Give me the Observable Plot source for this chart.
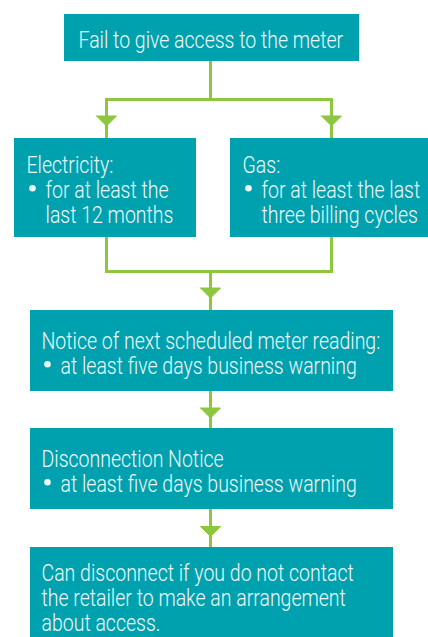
<!DOCTYPE html>
<html>
<head>
<meta charset="utf-8">
<script src="https://cdn.jsdelivr.net/npm/d3@7"></script>
<script src="https://cdn.jsdelivr.net/npm/@observablehq/plot@0.6"></script>
<style>
  html, body { margin: 0; padding: 0; background: #ffffff; }
  #chart { width: 428px; height: 637px; overflow: hidden; }
</style>
</head>
<body>
<div id="chart"></div>
<script>
// ---- content (data) ----
const nodeIds = ["access", "electricity", "gas", "notice", "disconnection", "outcome"];
const nodeTitleLines = [
  ["Fail to give access to the meter"],
  ["Electricity:"],
  ["Gas:"],
  ["Notice of next scheduled meter reading:"],
  ["Disconnection Notice"],
  ["Can disconnect if you do not contact", "the retailer to make an arrangement", "about access."]
];
const nodeBulletLines = [
  [],
  ["for at least the", "last 12 months"],
  ["for at least the last", "three billing cycles"],
  ["at least five days business warning"],
  ["at least five days business warning"],
  []
];
const edgeFrom = ["access", "access", "electricity", "gas", "notice", "disconnection"];
const edgeTo   = ["electricity", "gas", "notice", "notice", "disconnection", "outcome"];

// ---- layout (positions in px, kept separate from content) ----
const layout = {
  access:        {x1: 64,  x2: 359, y1: 14,  y2: 61,  tx: 78,  ty: 47},
  electricity:   {x1: 14,  x2: 196, y1: 138, y2: 237, tx: 26,  ty: 172},
  gas:           {x1: 230, x2: 430, y1: 138, y2: 237, tx: 242, ty: 172},
  notice:        {x1: 30,  x2: 393, y1: 310, y2: 391, tx: 41,  ty: 348},
  disconnection: {x1: 30,  x2: 393, y1: 428, y2: 509, tx: 41,  ty: 466},
  outcome:       {x1: 30,  x2: 393, y1: 547, y2: 640, tx: 41,  ty: 580}
};
const colX = {access: 210, electricity: 106, gas: 331, notice: 210, disconnection: 210, outcome: 210};
const lineStep = 25, bulletDx = 6, bulletDy = -9.3, bulletTextIndent = 19;
const W = 428, H = 637;
const teal = "#00a1ae", green = "#8dc63f", ink = "#eef8f8";

// boxes
const boxes = nodeIds.map(id => ({id, ...layout[id]}));

// text lines
const texts = [], bullets = [];
nodeIds.forEach((id, i) => {
  const L = layout[id];
  let row = 0;
  nodeTitleLines[i].forEach(t => { texts.push({x: L.tx, y: L.ty + row * lineStep, t}); row++; });
  nodeBulletLines[i].forEach((t, j) => {
    if (j === 0) bullets.push({x: L.tx + bulletDx, y: L.ty + row * lineStep + bulletDy});
    texts.push({x: L.tx + bulletTextIndent, y: L.ty + row * lineStep, t});
    row++;
  });
});

// connectors: group edges by source (split) and target (merge)
const segs = [], arrows = [];
const arrowH = 10, arrowHalf = 10;
function addArrow(x, tipY) {
  arrows.push({k: arrows.length, pts: [[x - arrowHalf, tipY - arrowH], [x + arrowHalf, tipY - arrowH], [x, tipY], [x - arrowHalf, tipY - arrowH]]});
}
const handled = new Set();
edgeFrom.forEach((f, i) => {
  if (handled.has(i)) return;
  const sameFrom = edgeFrom.map((g, j) => g === f ? j : -1).filter(j => j >= 0);
  const sameTo = edgeTo.map((g, j) => g === edgeTo[i] ? j : -1).filter(j => j >= 0);
  if (sameFrom.length > 1) {
    const s = layout[f];
    const midY = s.y2 + 38;
    segs.push([[colX[f], s.y2], [colX[f], midY]]);
    const xs = sameFrom.map(j => colX[edgeTo[j]]);
    segs.push([[d3.min(xs), midY], [d3.max(xs), midY]]);
    sameFrom.forEach(j => {
      const t = layout[edgeTo[j]];
      segs.push([[colX[edgeTo[j]], midY], [colX[edgeTo[j]], t.y1]]);
      addArrow(colX[edgeTo[j]], (midY + t.y1) / 2 + 7);
      handled.add(j);
    });
  } else if (sameTo.length > 1) {
    const t = layout[edgeTo[i]];
    const midY = t.y1 - 39;
    const xs = sameTo.map(j => colX[edgeFrom[j]]);
    sameTo.forEach(j => {
      segs.push([[colX[edgeFrom[j]], layout[edgeFrom[j]].y2], [colX[edgeFrom[j]], midY]]);
      handled.add(j);
    });
    segs.push([[d3.min(xs), midY], [d3.max(xs), midY]]);
    segs.push([[colX[edgeTo[i]], midY], [colX[edgeTo[i]], t.y1]]);
    addArrow(colX[edgeTo[i]], (midY + t.y1) / 2 + 7);
  } else {
    const s = layout[f], t = layout[edgeTo[i]];
    segs.push([[colX[f], s.y2], [colX[edgeTo[i]], t.y1]]);
    addArrow(colX[f], (s.y2 + t.y1) / 2 + 8);
    handled.add(i);
  }
});
const segData = segs.map(([a, b]) => ({x1: a[0], y1: a[1], x2: b[0], y2: b[1]}));
const arrowPts = arrows.flatMap(a => a.pts.map(p => ({k: a.k, x: p[0], y: p[1]})));

const chart = Plot.plot({
  width: W,
  height: H,
  margin: 0,
  x: {domain: [0, W], axis: null},
  y: {domain: [0, H], axis: null, reverse: true},
  style: {fontFamily: "Roboto, sans-serif", background: "#ffffff"},
  marks: [
    Plot.link(segData, {x1: "x1", y1: "y1", x2: "x2", y2: "y2", stroke: green, strokeWidth: 3, strokeLinecap: "square"}),
    Plot.line(arrowPts, {x: "x", y: "y", z: "k", fill: green, stroke: green, strokeWidth: 1}),
    Plot.rect(boxes, {x1: "x1", x2: "x2", y1: "y1", y2: "y2", fill: teal}),
    Plot.text(texts, {x: "x", y: "y", text: "t", textAnchor: "start", lineAnchor: "bottom", fill: ink, fontSize: 23.5, fontWeight: 300, className: "lbl"}),
    Plot.dot(bullets, {x: "x", y: "y", r: 3.3, fill: ink, stroke: null})
  ]
});
document.getElementById("chart").appendChild(chart);

// condense the lettering horizontally to match the narrow typeface of the original
const squeeze = 0.83;
d3.select(chart).selectAll("g.lbl text").each(function() {
  const tr = this.getAttribute("transform") || "";
  this.setAttribute("transform", `${tr} scale(${squeeze},1)`);
});
</script>
</body>
</html>
